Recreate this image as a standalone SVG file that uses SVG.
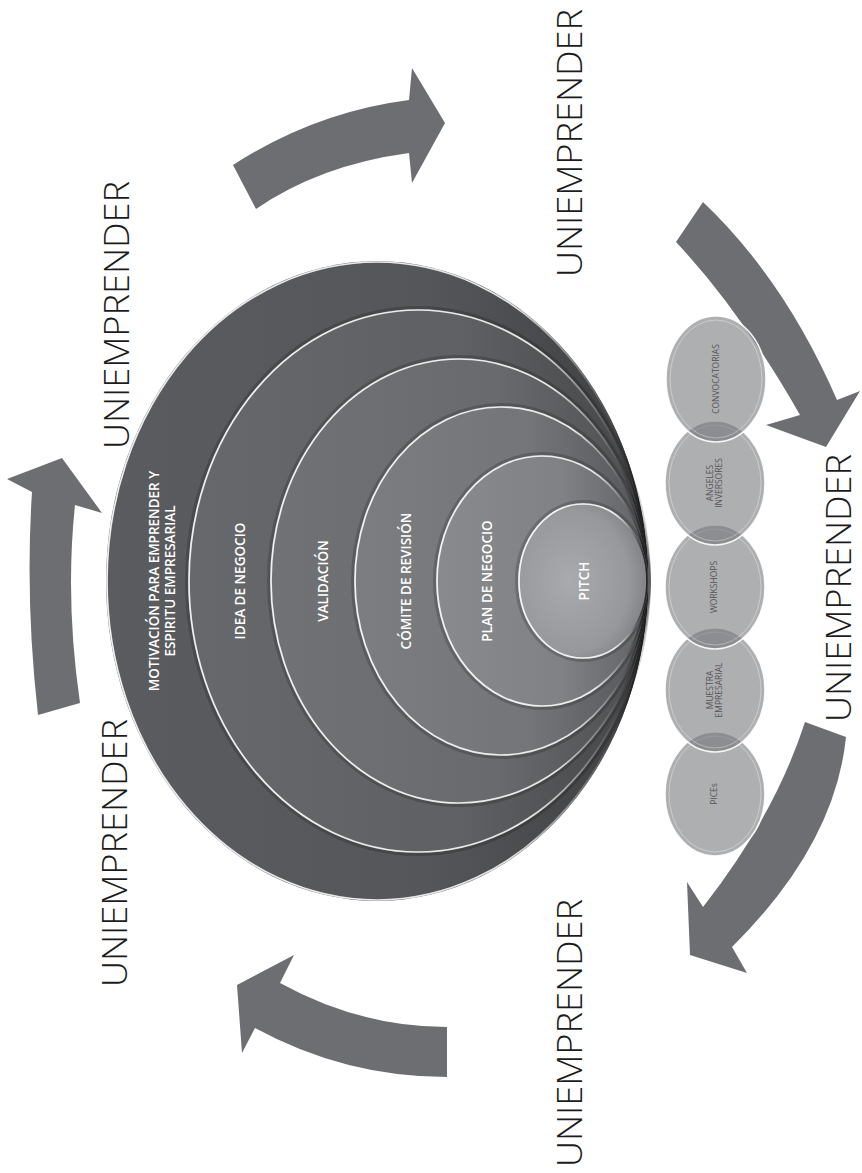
<svg xmlns="http://www.w3.org/2000/svg" width="862" height="1173" viewBox="0 0 862 1173">
<style>
.ring-t{font-family:"Open Sans","Liberation Sans",sans-serif;font-size:13.5px;font-weight:600;fill:#ffffff;text-anchor:middle}
.dot-t{font-family:"Open Sans","Liberation Sans",sans-serif;font-size:8.5px;fill:#555558;text-anchor:middle}
.big-t{font-family:"Open Sans","Liberation Sans",sans-serif;font-size:35px;font-weight:300;fill:#1c1c1c;text-anchor:middle}
.arrow{fill:#6d6e71}
.rim{fill:none;stroke:url(#rimG);stroke-width:1.7}
.shade{fill:none;stroke:#000000;stroke-opacity:0.18;stroke-width:3}
.dot{fill:#747578;fill-opacity:0.58;stroke:#ffffff;stroke-opacity:0.9;stroke-width:1.6}
.dot-in{fill:none;stroke:#ffffff;stroke-opacity:0.35;stroke-width:1}
</style>
<defs>
<linearGradient id="rimG" x1="0" y1="0" x2="1" y2="0">
<stop offset="0" stop-color="#ffffff" stop-opacity="0.9"/>
<stop offset="0.75" stop-color="#ffffff" stop-opacity="0.85"/>
<stop offset="0.95" stop-color="#3a3a3c" stop-opacity="0.9"/>
<stop offset="1" stop-color="#202022" stop-opacity="1"/>
</linearGradient>
<linearGradient id="g5" x1="0" y1="0" x2="1" y2="0">
<stop offset="0" stop-color="#5b5c5f"/><stop offset="0.6" stop-color="#555659"/><stop offset="1" stop-color="#3e3f41"/>
</linearGradient>
<linearGradient id="g4" x1="0" y1="0" x2="1" y2="0">
<stop offset="0" stop-color="#67686b"/><stop offset="0.6" stop-color="#5f6063"/><stop offset="1" stop-color="#444547"/>
</linearGradient>
<linearGradient id="g3" x1="0" y1="0" x2="1" y2="0">
<stop offset="0" stop-color="#717275"/><stop offset="0.6" stop-color="#696a6d"/><stop offset="1" stop-color="#4c4d4f"/>
</linearGradient>
<linearGradient id="g2" x1="0" y1="0" x2="1" y2="0">
<stop offset="0" stop-color="#7c7d80"/><stop offset="0.6" stop-color="#747578"/><stop offset="1" stop-color="#55565a"/>
</linearGradient>
<linearGradient id="g1" x1="0" y1="0" x2="1" y2="0">
<stop offset="0" stop-color="#898a8d"/><stop offset="0.6" stop-color="#808184"/><stop offset="1" stop-color="#606164"/>
</linearGradient>
<radialGradient id="g0" cx="0.4" cy="0.5" r="0.65">
<stop offset="0" stop-color="#a9aaad"/><stop offset="0.7" stop-color="#97989b"/><stop offset="1" stop-color="#7a7b7e"/>
</radialGradient>
</defs>
<rect x="0" y="0" width="862" height="1173" fill="#ffffff"/>

<g id="connectors">
<path class="arrow" d="M233,165 Q315,112 409,100 L412,68 L445,123 L412,183 L409,153 Q320,165 256,209 Z"/>
<path class="arrow" d="M703,202 Q785,280 837,400 L860,391 L826,447 L766,425 L800,415 Q740,310 676,242 Z"/>
<path class="arrow" d="M846,737 Q835,845 732,947 L747,973 L690,955 L687,882 L703,907 Q775,815 805,722 Z"/>
<path class="arrow" d="M447,1027 Q360,1027 280,983 L294,955 L237,985 L242,1053 L255,1028 Q345,1077 447,1077 Z"/>
<path class="arrow" d="M38,715 Q25,600 32,492 L7,479 L62,458 L102,513 L75,505 Q65,600 80,703 Z"/>
</g>

<g id="ring-motivacion">
<ellipse cx="377" cy="581" rx="271" ry="320" fill="url(#g5)"/>
<ellipse class="rim" cx="377" cy="581" rx="270" ry="319"/>
<text class="ring-t" transform="translate(159,581) rotate(-90)">MOTIVACIÓN PARA EMPRENDER Y</text>
<text class="ring-t" transform="translate(175,581) rotate(-90)">ESPIRITU EMPRESARIAL</text>
</g>
<g id="ring-idea">
<ellipse class="shade" cx="418" cy="581" rx="231.5" ry="273.5"/>
<ellipse cx="418" cy="581" rx="230" ry="272" fill="url(#g4)"/>
<ellipse class="rim" cx="418" cy="581" rx="229" ry="271"/>
<text class="ring-t" transform="translate(245,581) rotate(-90)">IDEA DE NEGOCIO</text>
</g>
<g id="ring-validacion">
<ellipse class="shade" cx="459" cy="581" rx="190.5" ry="224.5"/>
<ellipse cx="459" cy="581" rx="189" ry="223" fill="url(#g3)"/>
<ellipse class="rim" cx="459" cy="581" rx="188" ry="222"/>
<text class="ring-t" transform="translate(328,581) rotate(-90)">VALIDACIÓN</text>
</g>
<g id="ring-comite">
<ellipse class="shade" cx="501" cy="581" rx="148.5" ry="176.5"/>
<ellipse cx="501" cy="581" rx="147" ry="175" fill="url(#g2)"/>
<ellipse class="rim" cx="501" cy="581" rx="146" ry="174"/>
<text class="ring-t" transform="translate(411,581) rotate(-90)">CÓMITE DE REVISIÓN</text>
</g>
<g id="ring-plan">
<ellipse class="shade" cx="542" cy="581" rx="107.5" ry="127.5"/>
<ellipse cx="542" cy="581" rx="106" ry="126" fill="url(#g1)"/>
<ellipse class="rim" cx="542" cy="581" rx="105" ry="125"/>
<text class="ring-t" transform="translate(492,581) rotate(-90)">PLAN DE NEGOCIO</text>
</g>
<g id="ring-pitch">
<ellipse class="shade" cx="583" cy="581" rx="66.5" ry="79.5"/>
<ellipse cx="583" cy="581" rx="65" ry="78" fill="url(#g0)"/>
<ellipse class="rim" cx="583" cy="581" rx="64" ry="77"/>
<text class="ring-t" transform="translate(589,581) rotate(-90)">PITCH</text>
</g>

<g id="dot-pices">
<ellipse class="dot" cx="715" cy="794" rx="50" ry="62"/>
<ellipse class="dot-in" cx="715" cy="794" rx="46" ry="58"/>
<text class="dot-t" transform="translate(717,794) rotate(-90)">PICEs</text>
</g>
<g id="dot-muestra">
<ellipse class="dot" cx="715" cy="690" rx="50" ry="62"/>
<ellipse class="dot-in" cx="715" cy="690" rx="46" ry="58"/>
<text class="dot-t" transform="translate(713,690) rotate(-90)">MUESTRA</text>
<text class="dot-t" transform="translate(722,690) rotate(-90)">EMPRESARIAL</text>
</g>
<g id="dot-workshops">
<ellipse class="dot" cx="715" cy="587" rx="50" ry="62"/>
<ellipse class="dot-in" cx="715" cy="587" rx="46" ry="58"/>
<text class="dot-t" transform="translate(717,587) rotate(-90)">WORKSHOPS</text>
</g>
<g id="dot-angeles">
<ellipse class="dot" cx="715" cy="483" rx="50" ry="62"/>
<ellipse class="dot-in" cx="715" cy="483" rx="46" ry="58"/>
<text class="dot-t" transform="translate(713,483) rotate(-90)">ANGELES</text>
<text class="dot-t" transform="translate(722,483) rotate(-90)">INVERSORES</text>
</g>
<g id="dot-convocatorias">
<ellipse class="dot" cx="716" cy="379" rx="50" ry="63"/>
<ellipse class="dot-in" cx="716" cy="379" rx="46" ry="59"/>
<text class="dot-t" transform="translate(719,379) rotate(-90)">CONVOCATORIAS</text>
</g>

<g id="labels">
<text class="big-t" transform="translate(129,315) rotate(-90)" textLength="268" lengthAdjust="spacingAndGlyphs">UNIEMPRENDER</text>
<text class="big-t" transform="translate(582,143) rotate(-90)" textLength="268" lengthAdjust="spacingAndGlyphs">UNIEMPRENDER</text>
<text class="big-t" transform="translate(851,588) rotate(-90)" textLength="268" lengthAdjust="spacingAndGlyphs">UNIEMPRENDER</text>
<text class="big-t" transform="translate(127,853) rotate(-90)" textLength="268" lengthAdjust="spacingAndGlyphs">UNIEMPRENDER</text>
<text class="big-t" transform="translate(582,1033) rotate(-90)" textLength="268" lengthAdjust="spacingAndGlyphs">UNIEMPRENDER</text>
</g>
</svg>
